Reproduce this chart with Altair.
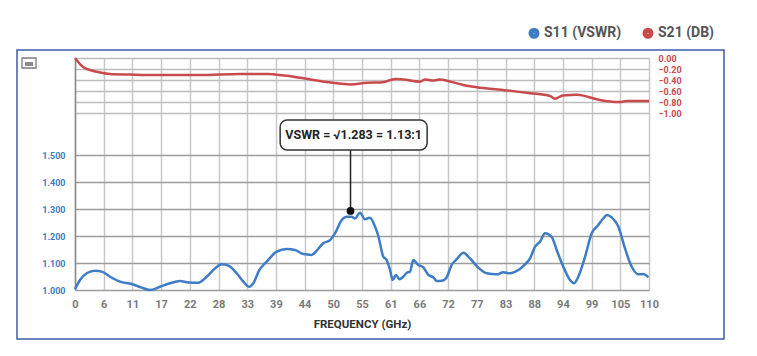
import altair as alt
import pandas as pd

# ---------------- data ----------------
freq_ticks = [0, 5.5, 11, 16.5, 22, 27.5, 33, 38.5, 44, 49.5, 55, 60.5, 66,
              71.5, 77, 82.5, 88, 93.5, 99, 104.5, 110]
vswr_ticks = [1.0, 1.1, 1.2, 1.3, 1.4, 1.5]
db_ticks = [0.0, -0.2, -0.4, -0.6, -0.8, -1.0]

s11_freq = [0.0, 0.96, 2.24, 3.83, 5.12, 6.71, 8.62, 10.87, 12.78, 14.37, 16.29,
            18.21, 20.12, 21.71, 23.63, 25.24, 26.83, 28.11, 29.38, 30.99, 32.25,
            33.40, 34.17, 35.32, 36.74, 38.65, 40.57, 42.16, 43.75, 45.36, 46.32,
            47.58, 48.87, 49.83, 51.11, 52.07, 53.03, 53.66, 54.62, 55.58, 56.53,
            57.49, 58.13, 59.08, 59.73, 60.37, 60.88, 61.52, 62.15, 62.92, 63.57,
            64.20, 64.83, 65.79, 66.75, 67.71, 68.66, 69.32, 70.28, 71.10, 72.19,
            73.15, 74.42, 75.70, 76.98, 78.90, 80.81, 82.08, 83.36, 84.96, 86.24,
            87.20, 88.15, 89.11, 90.07, 91.35, 92.31, 93.58, 94.86, 95.63, 96.45,
            97.74, 99.02, 100.28, 101.24, 101.89, 102.85, 104.12, 105.40, 106.69,
            107.95, 108.91, 109.87]
s11_vswr = [1.003, 1.037, 1.062, 1.071, 1.068, 1.049, 1.031, 1.022, 1.009, 1.000, 1.012,
            1.025, 1.033, 1.028, 1.027, 1.049, 1.080, 1.095, 1.090, 1.062, 1.031,
            1.012, 1.025, 1.074, 1.105, 1.142, 1.152, 1.148, 1.133, 1.130, 1.146,
            1.173, 1.185, 1.210, 1.259, 1.271, 1.271, 1.265, 1.286, 1.262, 1.268,
            1.235, 1.200, 1.123, 1.111, 1.074, 1.037, 1.056, 1.040, 1.049, 1.064,
            1.068, 1.111, 1.093, 1.084, 1.056, 1.047, 1.033, 1.034, 1.043, 1.093,
            1.114, 1.138, 1.117, 1.089, 1.062, 1.058, 1.066, 1.062, 1.074, 1.095,
            1.117, 1.160, 1.179, 1.210, 1.197, 1.148, 1.086, 1.037, 1.025, 1.049,
            1.123, 1.210, 1.241, 1.265, 1.278, 1.269, 1.235, 1.154, 1.086,
            1.058, 1.059, 1.047]

s21_freq = [0, 1.5, 2.9, 4.2, 6.7, 10.5, 16.3, 24, 31.6, 36.8, 40.2, 43.1, 49.4,
            52.7, 56, 59, 61.3, 62.9, 66.1, 67.1, 68.6, 69.9, 71.9, 74.4, 77, 82,
            87.2, 91, 92, 93.5, 96.2, 100, 102.5, 104.4, 105.8, 110]
s21_db = [0.0, -0.16, -0.22, -0.25, -0.29, -0.30, -0.31, -0.31, -0.29, -0.29, -0.32,
          -0.36, -0.45, -0.48, -0.45, -0.44, -0.38, -0.39, -0.43, -0.39, -0.41, -0.39,
          -0.43, -0.49, -0.53, -0.58, -0.64, -0.69, -0.74, -0.68, -0.67, -0.75, -0.79,
          -0.80, -0.78, -0.78]

series_names = ["S11 (VSWR)", "S21 (DB)"]
series_colors = ["#3f7cc6", "#c94a4c"]

marker_freq = 52.8
marker_vswr = 1.293
note_freq = 53.4
note_vswr = 1.574
note_text = "VSWR = \u221a1.283 = 1.13:1"

FONT = "Liberation Sans Narrow, Roboto, Liberation Sans, sans-serif"

# ---------------- tables ----------------
s11 = pd.DataFrame({"freq": s11_freq, "value": s11_vswr, "series": series_names[0]})
s21 = pd.DataFrame({"freq": s21_freq, "value": s21_db, "series": series_names[1]})
note = pd.DataFrame({"f": [marker_freq], "v": [marker_vswr], "lf": [note_freq],
                     "lv": [note_vswr], "label": [note_text]})
one = pd.DataFrame({"a": [0]})

x_scale = alt.Scale(domain=[0, 110], nice=False, zero=False)
vswr_scale = alt.Scale(domain=[1.0, 1.8593], nice=False, zero=False)
db_scale = alt.Scale(domain=[-4.218, 0], nice=False, zero=False)

x_axis = alt.Axis(values=freq_ticks, format=".0f", labelFont=FONT, labelFontSize=11,
                  labelColor="#7a7a7a", labelFontWeight="bold", labelPadding=8,
                  labelFlush=False, labelOverlap=False, ticks=False, domain=False,
                  grid=True, gridColor="#c8c8c8", gridWidth=1.5,
                  title="FREQUENCY (GHz)", titleFont=FONT, titleFontSize=11.5,
                  titleColor="#333333", titleFontWeight="bold", titlePadding=9)
vswr_axis = alt.Axis(values=vswr_ticks, format=".3f", labelFont=FONT, labelFontSize=9,
                     labelColor=series_colors[0], labelFontWeight="bold", labelPadding=10,
                     ticks=False, domain=True, domainColor="#8a8a8a", domainWidth=1.5,
                     grid=True, gridColor="#9c9c9c", gridWidth=1.5, title=None)
db_axis = alt.Axis(orient="right", values=db_ticks, format=".2f", labelFont=FONT,
                   labelFontSize=9, labelColor=series_colors[1], labelFontWeight="bold",
                   labelPadding=9, ticks=False, domain=False, grid=True,
                   gridColor="#bdbdbd", gridWidth=1.3, title=None)

color_enc = alt.Color("series:N", scale=alt.Scale(domain=series_names, range=series_colors),
                      legend=alt.Legend(orient="none", legendX=452, legendY=-32,
                                        direction="horizontal", title=None,
                                        symbolType="circle", symbolSize=25,
                                        symbolStrokeWidth=6, labelFont=FONT,
                                        labelFontSize=14, labelFontWeight="bold",
                                        labelColor="#555555", labelOffset=3,
                                        columnPadding=11, padding=0))

border = alt.Chart(one).mark_rect(filled=False, color="#3d5ba9", strokeWidth=1.5).encode(
    x=alt.value(-58), x2=alt.value(649), y=alt.value(-8), y2=alt.value(281))
icon = alt.Chart(one).mark_rect(filled=False, color="#7a7a7a", strokeWidth=1.3).encode(
    x=alt.value(-53), x2=alt.value(-39), y=alt.value(0), y2=alt.value(10))
icon_in = alt.Chart(one).mark_rect(color="#8a8a8a").encode(
    x=alt.value(-50), x2=alt.value(-42), y=alt.value(4), y2=alt.value(8))

s11_line = alt.Chart(s11).mark_line(strokeWidth=2.5, interpolate="monotone").encode(
    x=alt.X("freq:Q", scale=x_scale, axis=x_axis),
    y=alt.Y("value:Q", scale=vswr_scale, axis=vswr_axis),
    color=color_enc)

rule = alt.Chart(note).mark_rule(color="#222222", strokeWidth=1.5).encode(
    x=alt.X("f:Q", scale=x_scale, axis=x_axis),
    y=alt.Y("v:Q", scale=vswr_scale, axis=vswr_axis), y2="lv:Q")
box = alt.Chart(note).mark_rect(width=147, height=30, cornerRadius=7, fill="white",
                                stroke="#333333", strokeWidth=1.5).encode(
    x=alt.X("lf:Q", scale=x_scale, axis=x_axis),
    y=alt.Y("lv:Q", scale=vswr_scale, axis=vswr_axis))
label = alt.Chart(note).mark_text(font=FONT, fontSize=12.5, fontWeight="bold",
                                  color="#222222", align="center", baseline="middle").encode(
    x=alt.X("lf:Q", scale=x_scale, axis=x_axis),
    y=alt.Y("lv:Q", scale=vswr_scale, axis=vswr_axis), text="label:N")
dot = alt.Chart(note).mark_circle(size=60, color="#111111", opacity=1).encode(
    x=alt.X("f:Q", scale=x_scale, axis=x_axis),
    y=alt.Y("v:Q", scale=vswr_scale, axis=vswr_axis))

left_group = alt.layer(border, icon, icon_in, s11_line, rule, box, label, dot)

s21_line = alt.Chart(s21).mark_line(strokeWidth=2.5, interpolate="monotone").encode(
    x=alt.X("freq:Q", scale=x_scale, axis=x_axis),
    y=alt.Y("value:Q", scale=db_scale, axis=db_axis),
    color=color_enc)

chart = alt.layer(left_group, s21_line).resolve_scale(y="independent").properties(
    width=574, height=232, autosize=alt.AutoSizeParams(type="none"),
    padding={"left": 67, "top": 50, "right": 100, "bottom": 58},
    background="white"
).configure_view(stroke=None)

chart.save("out.html", embed_options={"renderer": "svg", "actions": False})
